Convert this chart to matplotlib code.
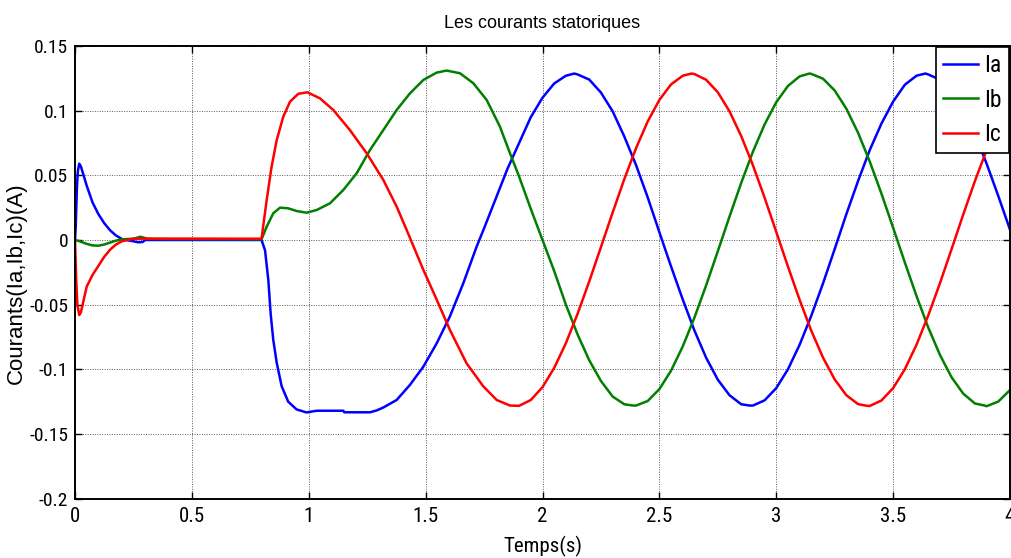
import numpy as np
import matplotlib
matplotlib.use("Agg")
import matplotlib.pyplot as plt

NARROW = ['Liberation Sans Narrow', 'Roboto Condensed', 'Open Sans Condensed', 'Liberation Sans', 'DejaVu Sans']
REGULAR = ['Liberation Sans', 'DejaVu Sans']
plt.rcParams['font.family'] = NARROW
plt.rcParams['axes.unicode_minus'] = False

# ---- stator currents (A) versus time (s) ----
# start-up and load-step portion, per phase
t_ia_tr = [0.0, 0.003, 0.008, 0.012, 0.018, 0.025, 0.035, 0.05, 0.075, 0.1, 0.125, 0.15,
           0.175, 0.2, 0.22, 0.25, 0.27, 0.29, 0.3, 0.5, 0.798,
           0.813, 0.827, 0.837, 0.848, 0.863, 0.884, 0.912, 0.948, 0.99, 1.034, 1.148,
           1.152, 1.262, 1.29, 1.319, 1.376, 1.433, 1.49, 1.547, 1.604, 1.661, 1.718,
           1.75, 1.80, 1.85]
ia_tr = [0.0, 0.010, 0.040, 0.053, 0.059, 0.057, 0.051, 0.042, 0.029, 0.020, 0.013, 0.0075,
         0.0035, 0.0008, 0.0, -0.001, -0.0018, -0.0015, 0.0, 0.0, 0.0,
         -0.008, -0.031, -0.057, -0.077, -0.095, -0.113, -0.125, -0.131, -0.1333, -0.132, -0.132,
         -0.1332, -0.1332, -0.1318, -0.1295, -0.1237, -0.112, -0.098, -0.080, -0.059, -0.0335, -0.0052,
         0.009, 0.032, 0.055]

t_ib_tr = [0.0, 0.02, 0.05, 0.075, 0.1, 0.125, 0.15, 0.175, 0.2, 0.25, 0.28, 0.31, 0.35,
           0.798, 0.82, 0.848, 0.877, 0.912, 0.948, 0.991, 1.034, 1.091, 1.148, 1.205,
           1.262, 1.319, 1.376, 1.433, 1.49, 1.547, 1.59, 1.647, 1.704, 1.761, 1.818, 1.861]
ib_tr = [0.0, -0.001, -0.003, -0.0042, -0.0044, -0.0035, -0.002, -0.0005, 0.0005, 0.001, 0.0025, 0.001, 0.0008,
         0.0005, 0.0103, 0.0206, 0.025, 0.0245, 0.0224, 0.0211, 0.0232, 0.0284, 0.0387, 0.0516,
         0.0696, 0.085, 0.1005, 0.1134, 0.1237, 0.1294, 0.131, 0.1289, 0.1212, 0.1083, 0.0876, 0.067]

t_ic_tr = [0.0, 0.005, 0.01, 0.018, 0.025, 0.035, 0.05, 0.075, 0.1, 0.125, 0.15, 0.175, 0.2, 0.25,
           0.798, 0.82, 0.841, 0.863, 0.891, 0.92, 0.955, 0.994, 1.048, 1.105, 1.176, 1.248,
           1.319, 1.376, 1.419, 1.49, 1.547, 1.604, 1.675, 1.746, 1.804, 1.861]
ic_tr = [0.0, -0.03, -0.05, -0.058, -0.056, -0.048, -0.036, -0.027, -0.020, -0.013, -0.0075, -0.0035, -0.001, 0.001,
         0.001, 0.0309, 0.0567, 0.0773, 0.0954, 0.107, 0.113, 0.1142, 0.1095, 0.1005, 0.085, 0.067,
         0.0464, 0.0258, 0.0077, -0.023, -0.046, -0.0696, -0.0953, -0.113, -0.1237, -0.128]

# steady-state portion, sampled every 50 ms from 1.90 s to 4.00 s
t_steady = np.round(np.arange(1.90, 4.0001, 0.05), 2)
ia_st = [0.075, 0.095, 0.110, 0.121, 0.127, 0.128, 0.124, 0.114, 0.0995, 0.080, 0.058, 0.033, 0.006,
         -0.0205, -0.046, -0.070, -0.091, -0.108, -0.120, -0.127, -0.128, -0.124, -0.1145, -0.100,
         -0.081, -0.0585, -0.0336, -0.007, 0.020, 0.0456, 0.0695, 0.090, 0.107, 0.120, 0.127, 0.128,
         0.124, 0.115, 0.1005, 0.082, 0.059, 0.034, 0.008]
ib_st = [0.049, 0.024, 0.0, -0.024, -0.050, -0.073, -0.093, -0.109, -0.121, -0.127, -0.128,
         -0.1245, -0.1153, -0.101, -0.0823, -0.060, -0.0351, -0.0087, 0.0181, 0.0441, 0.0682, 0.0893,
         0.1065, 0.1191, 0.1265, 0.1284, 0.1247, 0.1156, 0.1015, 0.0829, 0.0607, 0.0359, 0.0095,
         -0.0173, -0.0433, -0.0675, -0.0887, -0.1061, -0.1188, -0.1264, -0.1285, -0.1249, -0.1160]
ic_st = [-0.1282, -0.1237, -0.1138, -0.0989, -0.0798, -0.0571, -0.0320, -0.0055, 0.0212, 0.0471,
         0.0709, 0.0916, 0.1083, 0.1203, 0.1270, 0.1283, 0.1239, 0.1142, 0.0995, 0.0804, 0.0579,
         0.0328, 0.0063, -0.0205, -0.0463, -0.0702, -0.0909, -0.1078, -0.1200, -0.1269, -0.1283,
         -0.1241, -0.1145, -0.1000, -0.0810, -0.0585, -0.0336, -0.0071, 0.0197, 0.0456, 0.0695,
         0.0904, 0.1074]

# crests and troughs of the steady-state waves
t_ia_pk, ia_pk = [2.136, 2.887, 3.638], [0.1287, -0.1280, 0.1287]
t_ib_pk, ib_pk = [2.388, 3.142, 3.892], [-0.1280, 0.1287, -0.1280]
t_ic_pk, ic_pk = [2.638, 3.389], [0.1287, -0.1282]

series_names = ['Ia', 'Ib', 'Ic']
series_colors = ['#0000ff', '#008000', '#ff0000']

x_ticks = [0, 0.5, 1, 1.5, 2, 2.5, 3, 3.5, 4]
x_tick_labels = ['0', '0.5', '1', '1.5', '2', '2.5', '3', '3.5', '4']
y_ticks = [-0.2, -0.15, -0.1, -0.05, 0, 0.05, 0.1, 0.15]
y_tick_labels = ['-0.2', '-0.15', '-0.1', '-0.05', '0', '0.05', '0.1', '0.15']


def assemble(t_tr, v_tr, v_st, t_pk, v_pk):
    t = np.concatenate([t_tr, t_steady, t_pk])
    v = np.concatenate([v_tr, v_st, v_pk])
    order = np.argsort(t, kind='stable')
    return t[order], v[order]


series = [
    assemble(t_ia_tr, ia_tr, ia_st, t_ia_pk, ia_pk),
    assemble(t_ib_tr, ib_tr, ib_st, t_ib_pk, ib_pk),
    assemble(t_ic_tr, ic_tr, ic_st, t_ic_pk, ic_pk),
]

fig = plt.figure(figsize=(10.11, 5.58), dpi=100)
ax = fig.add_axes([0.0742, 0.1063, 0.9248, 0.8113])

for (t, y), name, col in zip(series, series_names, series_colors):
    ax.plot(t, y, color=col, lw=1.8, label=name, solid_joinstyle='round')

ax.set_xlim(0, 4)
ax.set_ylim(-0.2, 0.15)
ax.set_xticks(x_ticks)
ax.set_xticklabels(x_tick_labels)
ax.set_yticks(y_ticks)
ax.set_yticklabels(y_tick_labels)

ax.grid(True, color='0.35', linestyle=(0, (1, 1.5)), linewidth=0.7)
ax.tick_params(direction='in', top=True, right=True, length=5, width=1.0, colors='black')
ax.tick_params(axis='x', pad=6, labelsize=15)
ax.tick_params(axis='y', pad=5, labelsize=14)
for sp in ax.spines.values():
    sp.set_linewidth(1.4)
    sp.set_color('black')

ax.set_title('Les courants statoriques', fontsize=13, pad=13, family=REGULAR)
ax.set_xlabel('Temps(s)', fontsize=15)
ax.xaxis.set_label_coords(0.5, -0.083)
ax.set_ylabel('Courants(Ia,Ib,Ic)(A)', fontsize=16, family=REGULAR)
ax.yaxis.set_label_coords(-0.052, 0.475)

leg = ax.legend(loc='upper right', fontsize=17, frameon=True, fancybox=False,
                framealpha=1, edgecolor='black', borderaxespad=0.05,
                handlelength=1.5, handletextpad=0.25, labelspacing=0.48, borderpad=0.3)
leg.get_frame().set_linewidth(1.2)

fig.savefig('out.png', dpi=100)
